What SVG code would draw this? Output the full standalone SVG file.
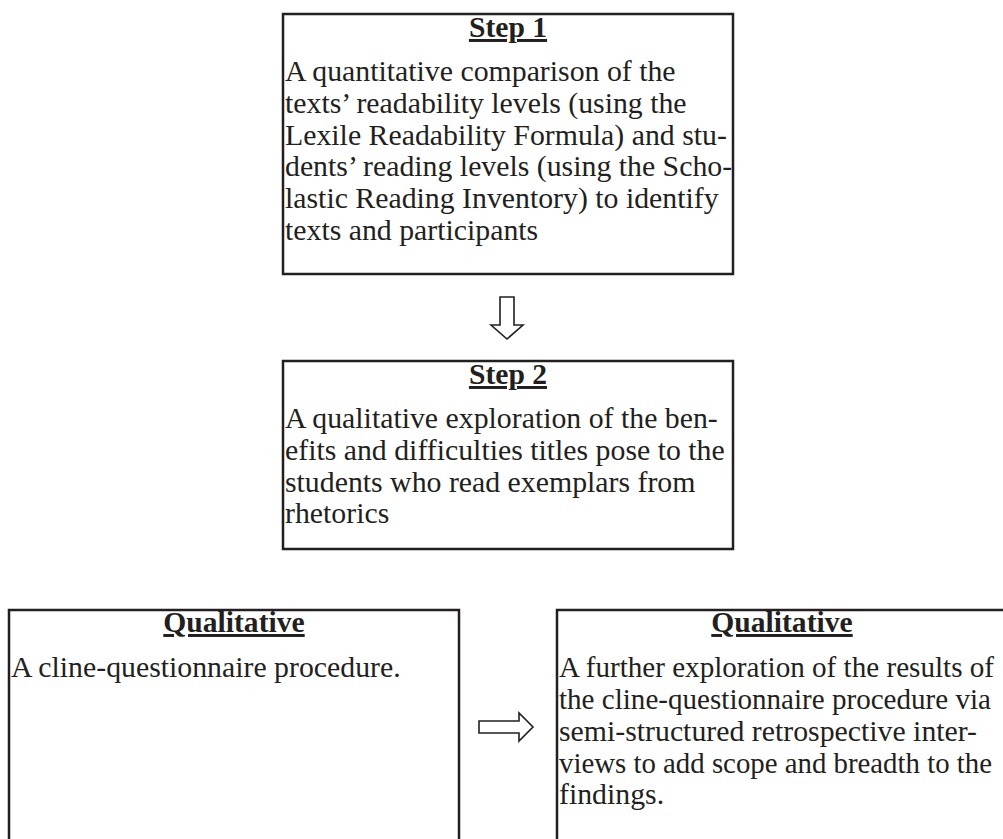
<svg xmlns="http://www.w3.org/2000/svg" width="1003" height="839" viewBox="0 0 1003 839">
<style>
.box{fill:#fff;stroke:#231f20;stroke-width:2.5}
.t{font-family:"Liberation Serif","Times New Roman",serif;font-size:29.8px;fill:#231f20}
.h{font-family:"Liberation Serif","Times New Roman",serif;font-size:29.6px;font-weight:bold;fill:#231f20;text-anchor:middle;text-decoration:underline}
.arr{fill:#fff;stroke:#231f20;stroke-width:1.6;stroke-linejoin:miter}
</style>
<rect width="1003" height="839" fill="#fff"/>
<g id="step1">
<rect class="box" x="283" y="14" width="450" height="260"/>
<text class="h" x="508" y="37">Step 1</text>
<text class="t" x="285" y="81">A quantitative comparison of the</text>
<text class="t" x="285" y="113">texts’ readability levels (using the</text>
<text class="t" x="285" y="145">Lexile Readability Formula) and stu-</text>
<text class="t" x="285" y="176">dents’ reading levels (using the Scho-</text>
<text class="t" x="285" y="208">lastic Reading Inventory) to identify</text>
<text class="t" x="285" y="240">texts and participants</text>
</g>
<g id="step2">
<rect class="box" x="283" y="361" width="450" height="188"/>
<text class="h" x="508" y="384">Step 2</text>
<text class="t" x="285" y="428">A qualitative exploration of the ben-</text>
<text class="t" x="285" y="460">efits and difficulties titles pose to the</text>
<text class="t" x="285" y="492">students who read exemplars from</text>
<text class="t" x="285" y="523">rhetorics</text>
</g>
<g id="qual1">
<rect class="box" x="9" y="610" width="450" height="260"/>
<text class="h" x="234" y="632">Qualitative</text>
<text class="t" x="11" y="677">A cline-questionnaire procedure.</text>
</g>
<g id="qual2">
<rect class="box" x="557" y="610" width="450" height="260"/>
<text class="h" x="782" y="632">Qualitative</text>
<text class="t" x="559" y="677" textLength="435" lengthAdjust="spacingAndGlyphs">A further exploration of the results of</text>
<text class="t" x="559" y="709" textLength="432" lengthAdjust="spacingAndGlyphs">the cline-questionnaire procedure via</text>
<text class="t" x="559" y="741">semi-structured retrospective inter-</text>
<text class="t" x="559" y="773" style="font-size:29px" textLength="433" lengthAdjust="spacingAndGlyphs">views to add scope and breadth to the</text>
<text class="t" x="559" y="804">findings.</text>
</g>
<g id="connectors">
<polygon class="arr" points="500,297 514,297 514,325 523,325 507,339 491,325 500,325"/>
<polygon class="arr" points="479,721 519,721 519,713 533,727 519,741 519,733 479,733"/>
</g>
</svg>
